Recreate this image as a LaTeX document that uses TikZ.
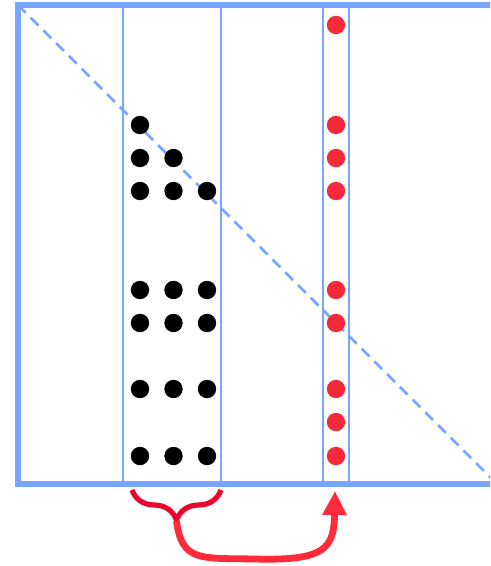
\documentclass[tikz,border=0pt]{standalone}
\usepackage{amssymb,amsmath}
\usepackage{tikz}
\usetikzlibrary{arrows.meta,decorations.pathreplacing}
\definecolor{gridblue}{HTML}{78A5FF}
\definecolor{dotred}{HTML}{F42A3A}
\definecolor{bracered}{HTML}{E8062C}
\definecolor{arrowred}{HTML}{FF2A3A}

\begin{document}
\begin{tikzpicture}[x=0.05cm,y=-0.05cm,
    frameline/.style={gridblue,line width=0.32cm},
    colline/.style={gridblue,line width=0.14cm},
    diagline/.style={gridblue,line width=0.14cm,dash pattern=on 0.55cm off 0.35cm},
    blackdot/.style={fill=black},
    reddot/.style={fill=dotred}]
  \useasboundingbox (0,0) rectangle (490,566);
  \clip (0,0) rectangle (490,566);
  % outer frame (right side runs off the page)
  \draw[frameline] (505,5) -- (18,5) -- (18,484) -- (505,484);
  % diagonal
  \draw[diagline] (18,5) -- (497,484);
  % column borders
  \foreach \x in {123,221,323,349} {
    \draw[colline] (\x,5) -- (\x,484);
  }
  % black dots (lower triangle block)
  \foreach \y/\n in {125/1,158/2,191/3,290/3,323/3,389/3,456/3} {
    \foreach \i in {1,...,\n} {
      \fill[blackdot] (140+33.5*\i-33.5,\y) circle (0.46cm);
    }
  }
  % red dots (single column)
  \foreach \y in {25,125,158,191,290,323,389,422,456} {
    \fill[reddot] (336,\y) circle (0.46cm);
  }
  % brace under the black block
  \coordinate (braceleft) at (132,490);
  \coordinate (braceright) at (221,490);
  \coordinate (bracetip) at (176.5,521);
  \coordinate (target) at (335,491);
  \draw[bracered,line width=0.26cm,decorate,decoration={brace,mirror,amplitude=1.5cm}]
    (braceleft) -- (braceright);
  % arrow to the red column
  \draw[arrowred,line width=0.34cm,-{Triangle[length=1.2cm,width=1.15cm]}]
    (bracetip) .. controls (182,562) and (200,558) .. (255,559)
    .. controls (326,561) and (334,548) .. (target);
\end{tikzpicture}
\end{document}
